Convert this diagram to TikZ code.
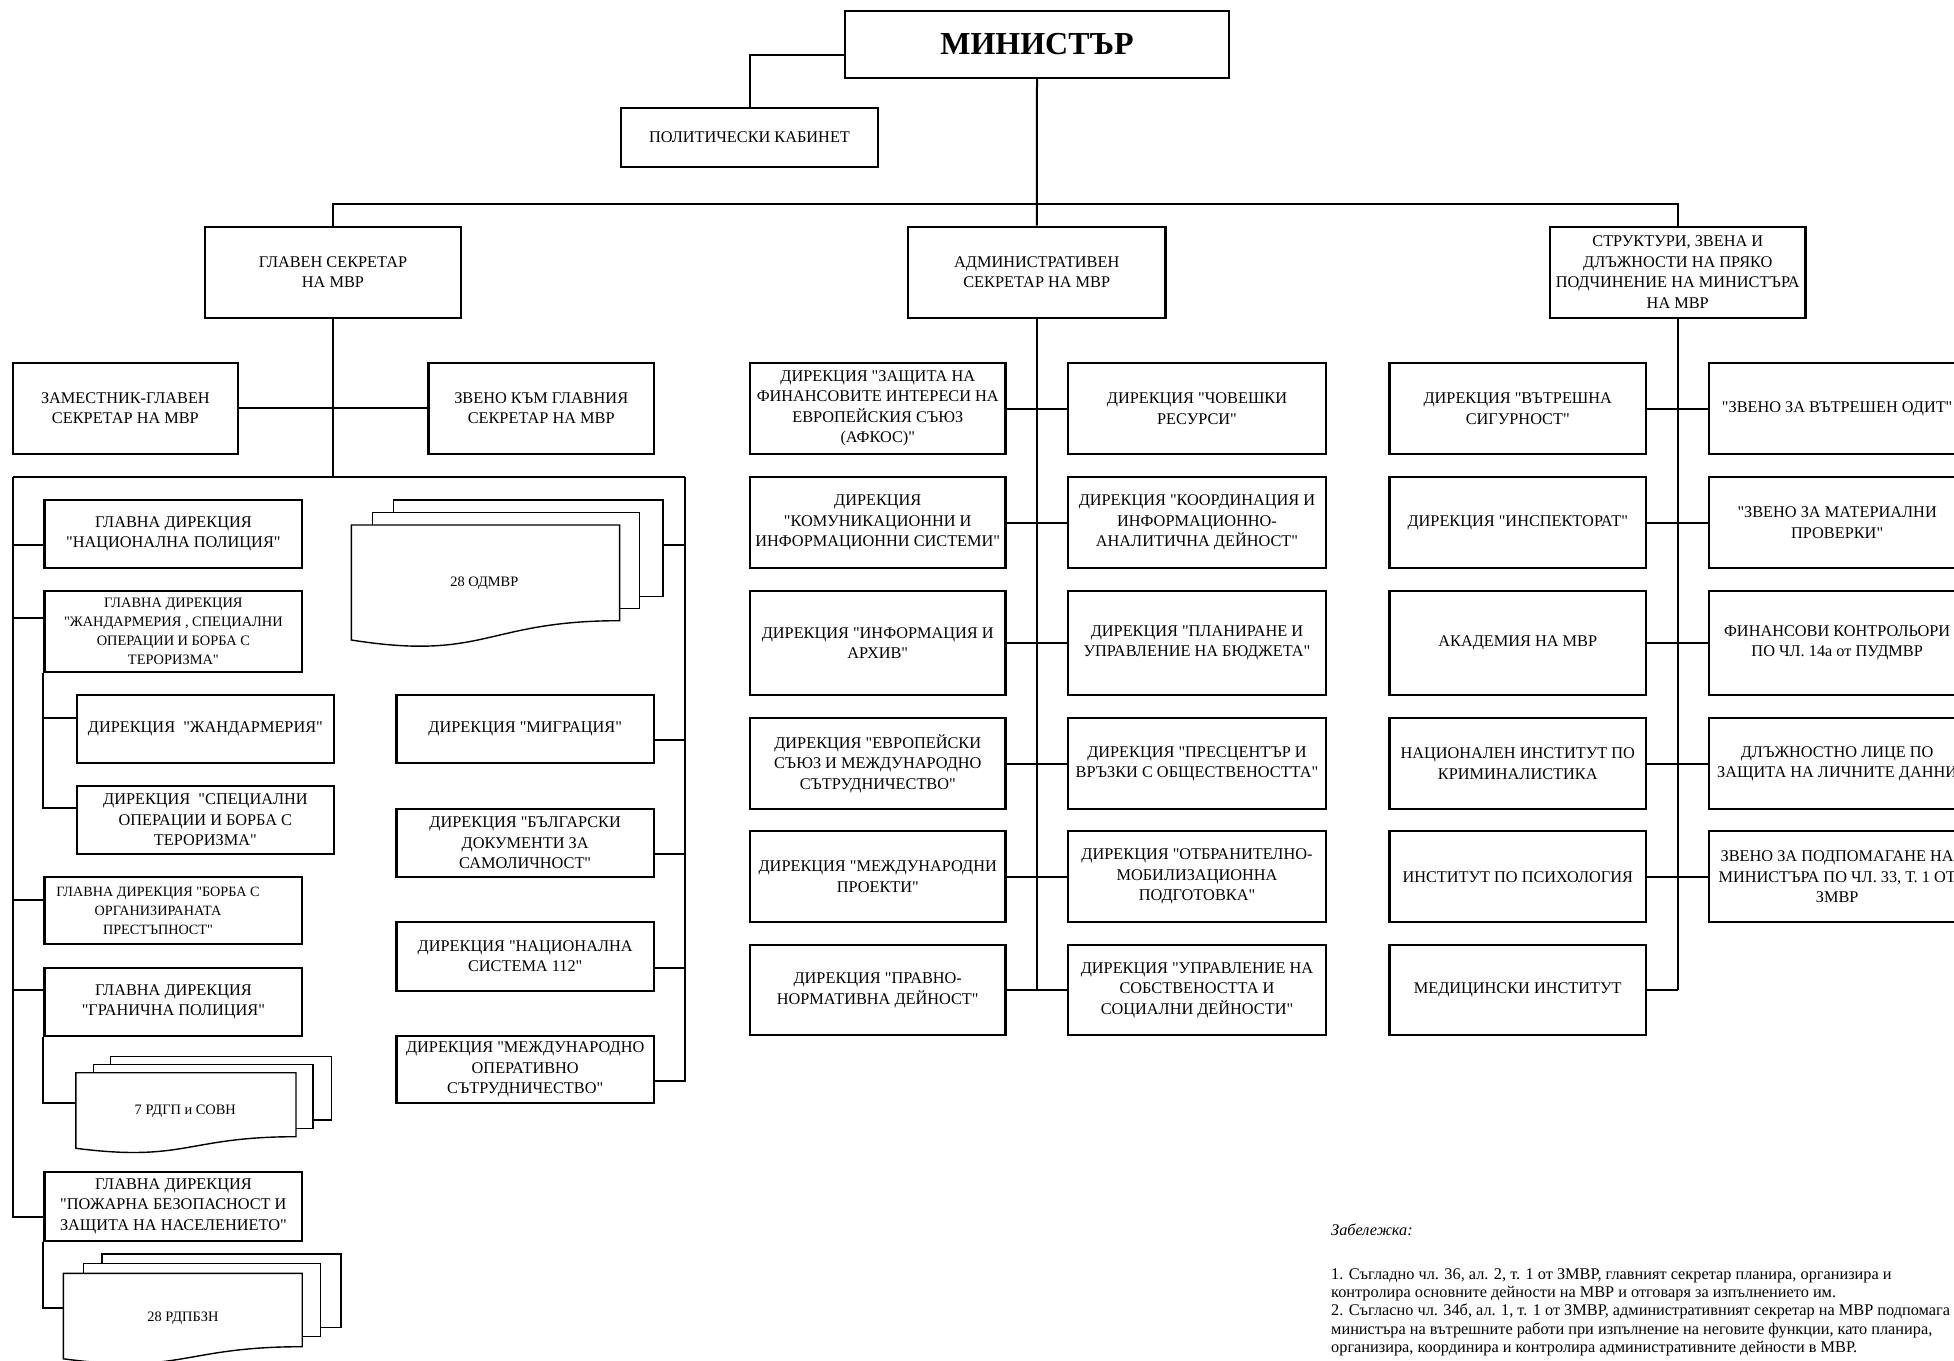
\documentclass[tikz,border=0pt]{standalone}
\usepackage{fontspec}
\newfontfamily\tnr{Liberation Serif}
\tikzset{
  box/.style={draw, line width=2.3pt, rectangle, inner sep=0pt, align=center, fill=white,
    font=\tnr\fontsize{16.3}{20.5}\selectfont},
  sbox/.style={box, font=\tnr\fontsize{14.4}{19}\selectfont},
  stext/.style={inner sep=0pt, align=center, font=\tnr\fontsize{14.2}{19}\selectfont},
  ttl/.style={box, font=\tnr\bfseries\fontsize{32}{36}\selectfont},
  conn/.style={line width=2pt},
  doc/.style={draw, line width=1.4pt, fill=white},
  doctext/.style={inner sep=0pt, font=\tnr\fontsize{14.4}{17}\selectfont},
  note/.style={inner sep=0pt, font=\tnr\fontsize{16.3}{18.35}\selectfont},
}
\newcommand{\bx}[7][]{\node[box,#1,minimum width={(#5-#3)*1pt},minimum height={(#6-#4)*1pt}] (#2) at ({(#3+#5)/2},{(#4+#6)/2}) {#7};}
\begin{document}
\begin{tikzpicture}[x=1pt,y=-1pt]
\useasboundingbox (0,0) rectangle (1954,1360);
\fill[white] (0,0) rectangle (1954,1360);

% ---------- top ----------
\bx[ttl]{min}{845}{10.7}{1229}{78}{МИНИСТЪР}
\bx{pol}{621}{107.7}{878}{166.7}{ПОЛИТИЧЕСКИ КАБИНЕТ}
\bx{gs}{205}{226.7}{461}{317.7}{ГЛАВЕН СЕКРЕТАР\\НА МВР}
\bx{adm}{908}{226.7}{1165.5}{317.7}{АДМИНИСТРАТИВЕН\\СЕКРЕТАР НА МВР}
\bx{st}{1550}{226.7}{1805.5}{317.7}{СТРУКТУРИ, ЗВЕНА И\\ДЛЪЖНОСТИ НА ПРЯКО\\ПОДЧИНЕНИЕ НА МИНИСТЪРА\\НА МВР}

% ---------- left section ----------
\bx{zgs}{12.8}{362.7}{238}{454}{ЗАМЕСТНИК-ГЛАВЕН\\СЕКРЕТАР НА МВР}
\bx{zv}{428.6}{362.7}{653.8}{454}{ЗВЕНО КЪМ ГЛАВНИЯ\\СЕКРЕТАР НА МВР}
\bx{np}{44.6}{500}{302.2}{567.7}{ГЛАВНА ДИРЕКЦИЯ\\"НАЦИОНАЛНА ПОЛИЦИЯ"}
\bx[sbox]{zh}{44.6}{591}{302.2}{671.7}{ГЛАВНА ДИРЕКЦИЯ\\"ЖАНДАРМЕРИЯ , СПЕЦИАЛНИ\\ОПЕРАЦИИ И БОРБА С\\ТЕРОРИЗМА"}
\bx{dzh}{76.8}{695}{334}{762.7}{ДИРЕКЦИЯ~~"ЖАНДАРМЕРИЯ"}
\bx{dso}{76.8}{786}{334}{854}{ДИРЕКЦИЯ~~"СПЕЦИАЛНИ\\ОПЕРАЦИИ И БОРБА С\\ТЕРОРИЗМА"}
\bx{bop}{44.6}{876.7}{302.2}{944.3}{}
\node[stext] (bopt) at (158,910.6) {ГЛАВНА ДИРЕКЦИЯ "БОРБА С\\ОРГАНИЗИРАНАТА\\ПРЕСТЪПНОСТ"};
\bx{gp}{44.6}{968.3}{302.2}{1035.7}{ГЛАВНА ДИРЕКЦИЯ\\"ГРАНИЧНА ПОЛИЦИЯ"}
\bx{pb}{44.6}{1171.7}{302.2}{1240.7}{ГЛАВНА ДИРЕКЦИЯ\\"ПОЖАРНА БЕЗОПАСНОСТ И\\ЗАЩИТА НА НАСЕЛЕНИЕТО"}
\bx{mig}{396.4}{695}{654}{762.7}{ДИРЕКЦИЯ "МИГРАЦИЯ"}
\bx{bdz}{396.4}{809.3}{654}{876.7}{ДИРЕКЦИЯ "БЪЛГАРСКИ\\ДОКУМЕНТИ ЗА\\САМОЛИЧНОСТ"}
\bx{sst}{396.4}{921.7}{654}{990.7}{ДИРЕКЦИЯ "НАЦИОНАЛНА\\СИСТЕМА 112"}
\bx{mos}{396.4}{1035.7}{654}{1103.3}{ДИРЕКЦИЯ "МЕЖДУНАРОДНО\\ОПЕРАТИВНО\\СЪТРУДНИЧЕСТВО"}

% stacked documents
\path[doc] (393.7,500) rectangle (662.9,596.7);
\path[doc] (372.7,512.3) rectangle (639.7,608.3);
\path[doc] (351.3,525) -- (619.6,525) -- (619.6,620.7) .. controls (485.45,620.7) and (485.45,661.3) .. (351.3,640) -- cycle;
\node[doctext] (odt) at (484.3,583.3) {28 ОДМВР};
\coordinate (odR) at (662.9,545);

\path[doc] (110.7,1056.7) rectangle (331.7,1120);
\path[doc] (93.7,1064.3) rectangle (312.8,1128.3);
\path[doc] (75.9,1072.7) -- (296,1072.7) -- (296,1136.7) .. controls (186,1136.7) and (186,1162.3) .. (75.9,1148.3) -- cycle;
\node[doctext] (rgt) at (185.3,1111.7) {7 РДГП и СОВН};
\coordinate (d7L) at (75.9,1103.3);

\path[doc] (101.8,1254) rectangle (341,1327.7);
\path[doc] (83.2,1263.3) rectangle (320.3,1336.7);
\path[doc] (63.4,1273.3) -- (302.2,1273.3) -- (302.2,1346.7) .. controls (182.8,1346.7) and (182.8,1374.6) .. (63.4,1358.8) -- cycle;
\node[doctext] (rpt) at (183,1318.3) {28 РДПБЗН};
\coordinate (d28L) at (63.4,1308.3);

% ---------- middle section ----------
\bx{m1l}{750}{363}{1005.5}{454}{ДИРЕКЦИЯ "ЗАЩИТА НА\\ФИНАНСОВИТЕ ИНТЕРЕСИ НА\\ЕВРОПЕЙСКИЯ СЪЮЗ\\(АФКОС)"}
\bx{m1r}{1068.3}{363}{1325.7}{454}{ДИРЕКЦИЯ "ЧОВЕШКИ\\РЕСУРСИ"}
\bx{m2l}{750}{477.2}{1005.5}{567.8}{ДИРЕКЦИЯ\\"КОМУНИКАЦИОННИ И\\ИНФОРМАЦИОННИ СИСТЕМИ"}
\bx{m2r}{1068.3}{477.2}{1325.7}{567.8}{ДИРЕКЦИЯ "КООРДИНАЦИЯ И\\ИНФОРМАЦИОННО-\\АНАЛИТИЧНА ДЕЙНОСТ"}
\bx{m3l}{750}{591}{1005.5}{695}{ДИРЕКЦИЯ "ИНФОРМАЦИЯ И\\АРХИВ"}
\bx{m3r}{1068.3}{591}{1325.7}{695}{ДИРЕКЦИЯ "ПЛАНИРАНЕ И\\УПРАВЛЕНИЕ НА БЮДЖЕТА"}
\bx{m4l}{750}{718.3}{1005.5}{809}{ДИРЕКЦИЯ "ЕВРОПЕЙСКИ\\СЪЮЗ И МЕЖДУНАРОДНО\\СЪТРУДНИЧЕСТВО"}
\bx{m4r}{1068.3}{718.3}{1325.7}{809}{ДИРЕКЦИЯ "ПРЕСЦЕНТЪР И\\ВРЪЗКИ С ОБЩЕСТВЕНОСТТА"}
\bx{m5l}{750}{831.2}{1005.5}{922.3}{ДИРЕКЦИЯ "МЕЖДУНАРОДНИ\\ПРОЕКТИ"}
\bx{m5r}{1068.3}{831.2}{1325.7}{922.3}{ДИРЕКЦИЯ "ОТБРАНИТЕЛНО-\\МОБИЛИЗАЦИОННА\\ПОДГОТОВКА"}
\bx{m6l}{750}{945}{1005.5}{1035.2}{ДИРЕКЦИЯ "ПРАВНО-\\НОРМАТИВНА ДЕЙНОСТ"}
\bx{m6r}{1068.3}{945}{1325.7}{1035.2}{ДИРЕКЦИЯ "УПРАВЛЕНИЕ НА\\СОБСТВЕНОСТТА И\\СОЦИАЛНИ ДЕЙНОСТИ"}

% ---------- right section ----------
\bx{r1l}{1389.5}{363}{1646}{454}{ДИРЕКЦИЯ "ВЪТРЕШНА\\СИГУРНОСТ"}
\bx{r1r}{1709.3}{363}{1965}{454}{"ЗВЕНО ЗА ВЪТРЕШЕН ОДИТ"}
\bx{r2l}{1389.5}{477.2}{1646}{567.8}{ДИРЕКЦИЯ "ИНСПЕКТОРАТ"}
\bx{r2r}{1709.3}{477.2}{1965}{567.8}{"ЗВЕНО ЗА МАТЕРИАЛНИ\\ПРОВЕРКИ"}
\bx{r3l}{1389.5}{591}{1646}{695}{АКАДЕМИЯ НА МВР}
\bx{r3r}{1709.3}{591}{1965}{695}{ФИНАНСОВИ КОНТРОЛЬОРИ\\ПО ЧЛ. 14а от ПУДМВР}
\bx{r4l}{1389.5}{718.3}{1646}{809}{НАЦИОНАЛЕН ИНСТИТУТ ПО\\КРИМИНАЛИСТИКА}
\bx{r4r}{1709.3}{718.3}{1965}{809}{ДЛЪЖНОСТНО ЛИЦЕ ПО\\ЗАЩИТА НА ЛИЧНИТЕ ДАННИ}
\bx{r5l}{1389.5}{831.2}{1646}{922.3}{ИНСТИТУТ ПО ПСИХОЛОГИЯ}
\bx{r5r}{1709.3}{831.2}{1965}{922.3}{ЗВЕНО ЗА ПОДПОМАГАНЕ НА\\МИНИСТЪРА ПО ЧЛ. 33, Т. 1 ОТ\\ЗМВР}
\bx{r6l}{1389.5}{945}{1646}{1035.2}{МЕДИЦИНСКИ ИНСТИТУТ}

% ---------- connectors ----------
\coordinate (pj) at (749.5,55);
\draw[conn] (pj -| min.west) -| (pol.north);
\coordinate (busT) at (0,204);
\draw[conn] (min.south) -- (adm.north);
\draw[conn] (gs.north) |- (busT -| st.north) -- (st.north);

% left
\coordinate (b2) at (0,476.7);
\coordinate (LT) at (12.5,476.7);
\coordinate (RT) at (685.2,476.7);
\draw[conn] (gs.south) -- (gs.south |- b2);
\draw[conn] (zgs.east) -- (zv.west);
\draw[conn] (LT) -- (RT);
\coordinate (ynp) at (0,545);
\coordinate (yzh) at (0,618.3);
\coordinate (ydzh) at (0,717.7);
\coordinate (ydso) at (0,808.3);
\coordinate (ybop) at (0,900);
\coordinate (ygp) at (0,990);
\coordinate (ypb) at (0,1217.3);
\draw[conn] (LT) |- (pb.west |- ypb);
\draw[conn] (LT |- ynp) -- (np.west |- ynp);
\draw[conn] (LT |- yzh) -- (zh.west |- yzh);
\draw[conn] (LT |- ybop) -- (bop.west |- ybop);
\draw[conn] (LT |- ygp) -- (gp.west |- ygp);
\draw[conn] (zh.south west) |- (dso.west |- ydso);
\draw[conn] (zh.south west |- ydzh) -- (dzh.west |- ydzh);
\draw[conn] (gp.south west) |- (d7L);
\draw[conn] (pb.south west) |- (d28L);
\coordinate (ymig) at (0,740);
\coordinate (ybdz) at (0,854);
\coordinate (ysst) at (0,967.7);
\coordinate (ymos) at (0,1080.7);
\draw[conn] (RT) |- (mos.east |- ymos);
\draw[conn] (mig.east |- ymig) -- (RT |- ymig);
\draw[conn] (bdz.east |- ybdz) -- (RT |- ybdz);
\draw[conn] (sst.east |- ysst) -- (RT |- ysst);
\draw[conn] (odR) -- (RT |- odR);

% middle
\draw[conn] (adm.south) -- (adm.south |- m6l.east);
\foreach \i in {1,...,6} {\draw[conn] (m\i l.east) -- (m\i r.west);}

% right
\draw[conn] (st.south) -- (st.south |- r6l.east);
\foreach \i in {1,...,5} {\draw[conn] (r\i l.east) -- (r\i r.west);}
\draw[conn] (r6l.east) -- (st.south |- r6l.east);

% ---------- notes ----------
\node[note, anchor=base west] (nt) at (1331,1235) {\itshape Забележка:};
\node[note, anchor=north west, align=left] (nb) at (1331,1268) {1. Съгладно чл. 36, ал. 2, т. 1 от ЗМВР, главният секретар планира, организира и\\контролира основните дейности на МВР и отговаря за изпълнението им.\\2. Съгласно чл. 34б, ал. 1, т. 1 от ЗМВР, административният секретар на МВР подпомага\\министъра на вътрешните работи при изпълнение на неговите функции, като планира,\\организира, координира и контролира административните дейности в МВР.};
\end{tikzpicture}
\end{document}
